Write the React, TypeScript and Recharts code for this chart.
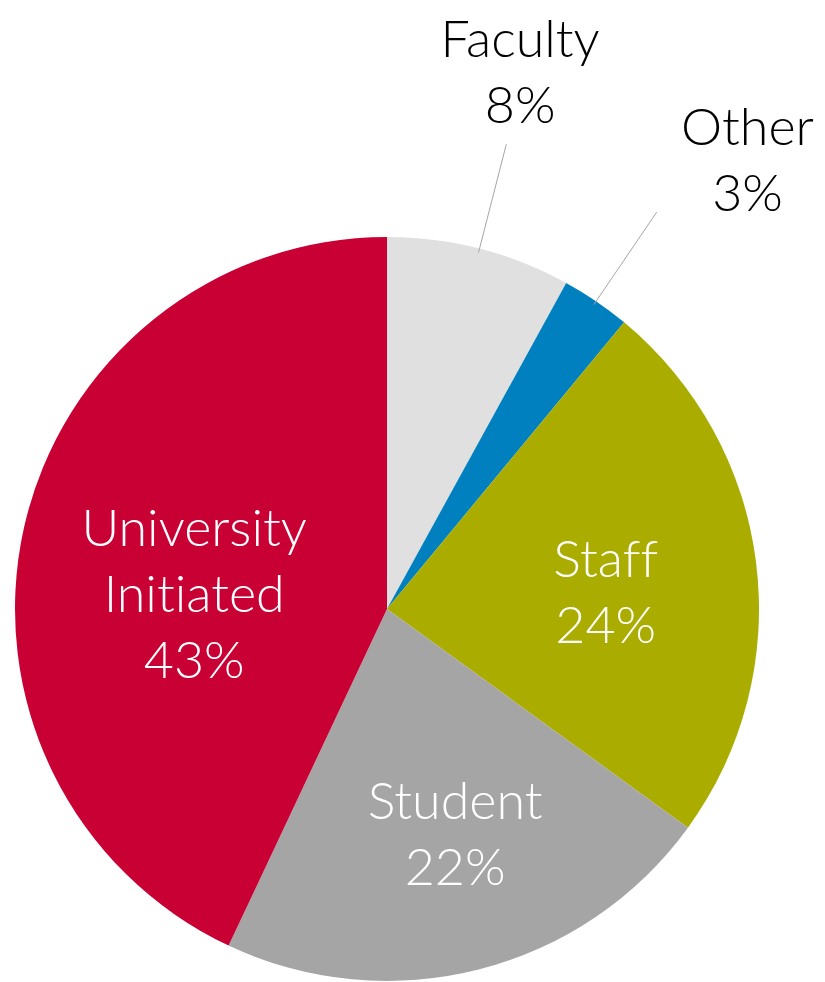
import React from 'react';
import { PieChart, Pie, Cell } from 'recharts';

// Share of cases by initiator (clockwise from 12 o'clock)
const categories = ['Faculty', 'Other', 'Staff', 'Student', 'University Initiated'];
const shares = [8, 3, 24, 22, 43];
const sliceColors = ['#E0E0E0', '#0080BE', '#AAAD00', '#A5A5A5', '#C80033'];

const chartData = categories.map((name, i) => ({ name, value: shares[i] }));

const RAD = Math.PI / 180;
const FONT = 'Lato, "Open Sans", sans-serif';
const LINE_H = 66;

// label placement: radius as a fraction of the pie radius, plus a small angle nudge
const placement: Record<string, { r: number; da: number; outside?: boolean }> = {
    'Faculty': { r: 1.49, da: 0.5, outside: true },
    'Other': { r: 1.55, da: -4.5, outside: true },
    'Staff': { r: 0.59, da: -2.5 },
    'Student': { r: 0.63, da: 2.5 },
    'University Initiated': { r: 0.52, da: 8 },
};

const renderLabel = (props: any) => {
    const { cx, cy, midAngle, outerRadius, name, value } = props;
    const p = placement[name] || { r: 0.6, da: 0 };
    const a = (midAngle + p.da) * RAD;
    const x = cx + outerRadius * p.r * Math.cos(a);
    const y = cy - outerRadius * p.r * Math.sin(a);
    const lines = [...name.split(' '), `${value}%`];
    const first = y - ((lines.length - 1) / 2) * LINE_H + 19;
    const m = midAngle * RAD;
    return (
        <g>
            {p.outside && (
                <line
                    x1={cx + (outerRadius - 4) * Math.cos(m)}
                    y1={cy - (outerRadius - 4) * Math.sin(m)}
                    x2={cx + outerRadius * 1.29 * Math.cos(m)}
                    y2={cy - outerRadius * 1.29 * Math.sin(m)}
                    stroke="#A6A6A6"
                    strokeWidth={1}
                />
            )}
            <text
                x={x}
                y={first}
                textAnchor="middle"
                fill={p.outside ? '#000000' : '#FFFFFF'}
                fontFamily={FONT}
                fontWeight={300}
                fontSize={52}
                style={{ fontVariantLigatures: 'none' }}
            >
                {lines.map((t, i) => (
                    <tspan key={i} x={x} dy={i === 0 ? 0 : LINE_H}>{t}</tspan>
                ))}
            </text>
        </g>
    );
};

export default function App() {
    return (
        <div style={{ position: 'absolute', left: 0, top: 0, width: 825, height: 982, background: '#fff' }}>
            <PieChart width={825} height={982} margin={{ top: 0, right: 0, bottom: 0, left: 0 }}>
                <Pie
                    data={chartData}
                    dataKey="value"
                    nameKey="name"
                    cx={387}
                    cy={609}
                    outerRadius={372}
                    startAngle={90}
                    endAngle={-270}
                    stroke="none"
                    label={renderLabel}
                    labelLine={false}
                    isAnimationActive={false}
                >
                    {chartData.map((d, i) => (
                        <Cell key={d.name} fill={sliceColors[i]} />
                    ))}
                </Pie>
            </PieChart>
        </div>
    );
}
